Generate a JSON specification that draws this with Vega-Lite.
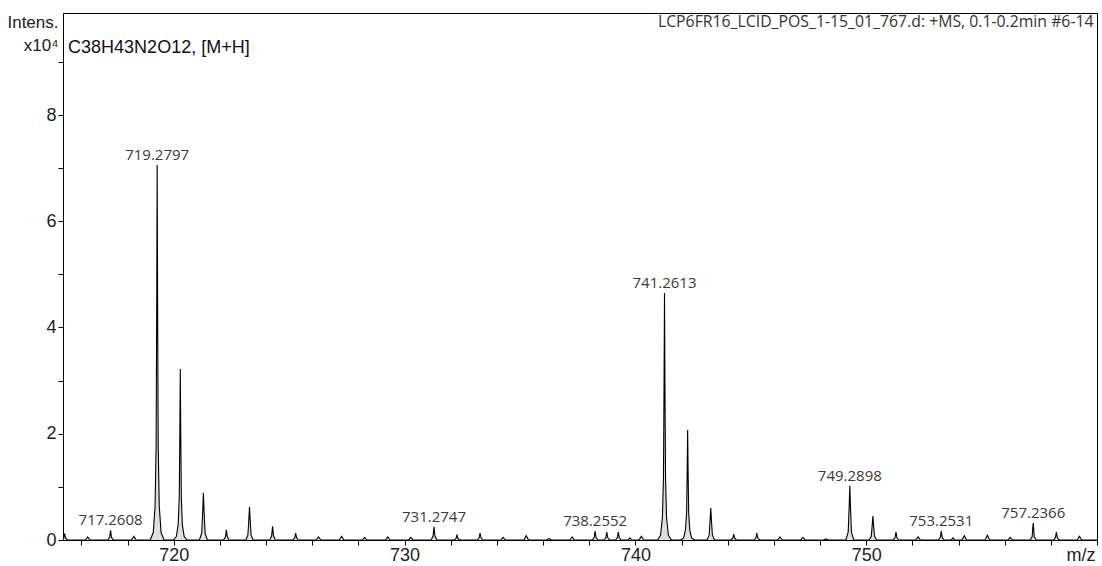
{
  "$schema": "https://vega.github.io/schema/vega-lite/v6.json",
  "width": 1034,
  "height": 527,
  "padding": {"left": 63, "top": 13, "right": 5, "bottom": 26},
  "autosize": {"type": "none"},
  "background": "white",
  "config": {
    "view": {"stroke": "#000", "strokeWidth": 1},
    "axis": {
      "domainColor": "#000",
      "tickColor": "#000",
      "tickSize": 5,
      "grid": false,
      "labelFont": "Liberation Sans",
      "labelFontSize": 18,
      "labelColor": "#222",
      "titleFont": "Liberation Sans",
      "titleFontWeight": "normal",
      "titleColor": "#222"
    }
  },
  "datasets": {
    "spectrum": [
      {"mz": 715.20, "i": 0}, {"mz": 715.23, "i": 0.04}, {"mz": 715.27, "i": 0.12}, {"mz": 715.31, "i": 0.04}, {"mz": 715.39, "i": 0},
      {"mz": 716.17, "i": 0}, {"mz": 716.27, "i": 0.06}, {"mz": 716.37, "i": 0},
      {"mz": 717.14, "i": 0}, {"mz": 717.22, "i": 0.05}, {"mz": 717.2608, "i": 0.18}, {"mz": 717.30, "i": 0.05}, {"mz": 717.38, "i": 0},
      {"mz": 718.17, "i": 0}, {"mz": 718.27, "i": 0.07}, {"mz": 718.37, "i": 0},
      {"mz": 718.98, "i": 0}, {"mz": 719.11, "i": 0.14}, {"mz": 719.19, "i": 0.64}, {"mz": 719.235, "i": 1.77}, {"mz": 719.26, "i": 4.38}, {"mz": 719.2797, "i": 7.06}, {"mz": 719.30, "i": 4.38}, {"mz": 719.325, "i": 1.77}, {"mz": 719.37, "i": 0.64}, {"mz": 719.45, "i": 0.14}, {"mz": 719.58, "i": 0},
      {"mz": 719.98, "i": 0}, {"mz": 720.11, "i": 0.065}, {"mz": 720.19, "i": 0.29}, {"mz": 720.237, "i": 0.8}, {"mz": 720.262, "i": 2.0}, {"mz": 720.282, "i": 3.22}, {"mz": 720.302, "i": 2.0}, {"mz": 720.327, "i": 0.8}, {"mz": 720.37, "i": 0.29}, {"mz": 720.45, "i": 0.065}, {"mz": 720.58, "i": 0},
      {"mz": 721.11, "i": 0}, {"mz": 721.21, "i": 0.13}, {"mz": 721.253, "i": 0.53}, {"mz": 721.283, "i": 0.89}, {"mz": 721.313, "i": 0.53}, {"mz": 721.356, "i": 0.13}, {"mz": 721.456, "i": 0},
      {"mz": 722.16, "i": 0}, {"mz": 722.24, "i": 0.06}, {"mz": 722.28, "i": 0.19}, {"mz": 722.32, "i": 0.06}, {"mz": 722.40, "i": 0},
      {"mz": 723.12, "i": 0}, {"mz": 723.21, "i": 0.09}, {"mz": 723.25, "i": 0.37}, {"mz": 723.28, "i": 0.62}, {"mz": 723.31, "i": 0.37}, {"mz": 723.35, "i": 0.09}, {"mz": 723.44, "i": 0},
      {"mz": 724.16, "i": 0}, {"mz": 724.24, "i": 0.08}, {"mz": 724.28, "i": 0.26}, {"mz": 724.32, "i": 0.08}, {"mz": 724.40, "i": 0},
      {"mz": 725.16, "i": 0}, {"mz": 725.24, "i": 0.04}, {"mz": 725.28, "i": 0.13}, {"mz": 725.32, "i": 0.04}, {"mz": 725.40, "i": 0},
      {"mz": 726.17, "i": 0}, {"mz": 726.27, "i": 0.06}, {"mz": 726.37, "i": 0},
      {"mz": 727.17, "i": 0}, {"mz": 727.27, "i": 0.07}, {"mz": 727.37, "i": 0},
      {"mz": 728.17, "i": 0}, {"mz": 728.27, "i": 0.05}, {"mz": 728.37, "i": 0},
      {"mz": 729.17, "i": 0}, {"mz": 729.27, "i": 0.06}, {"mz": 729.37, "i": 0},
      {"mz": 730.17, "i": 0}, {"mz": 730.27, "i": 0.05}, {"mz": 730.37, "i": 0},
      {"mz": 731.15, "i": 0}, {"mz": 731.235, "i": 0.075}, {"mz": 731.2747, "i": 0.25}, {"mz": 731.315, "i": 0.075}, {"mz": 731.40, "i": 0},
      {"mz": 732.15, "i": 0}, {"mz": 732.23, "i": 0.03}, {"mz": 732.27, "i": 0.10}, {"mz": 732.31, "i": 0.03}, {"mz": 732.39, "i": 0},
      {"mz": 733.15, "i": 0}, {"mz": 733.23, "i": 0.04}, {"mz": 733.27, "i": 0.13}, {"mz": 733.31, "i": 0.04}, {"mz": 733.39, "i": 0},
      {"mz": 734.17, "i": 0}, {"mz": 734.27, "i": 0.05}, {"mz": 734.37, "i": 0},
      {"mz": 735.17, "i": 0}, {"mz": 735.27, "i": 0.08}, {"mz": 735.37, "i": 0},
      {"mz": 736.16, "i": 0}, {"mz": 736.26, "i": 0.03}, {"mz": 736.36, "i": 0},
      {"mz": 737.16, "i": 0}, {"mz": 737.26, "i": 0.06}, {"mz": 737.36, "i": 0},
      {"mz": 738.14, "i": 0}, {"mz": 738.215, "i": 0.05}, {"mz": 738.2552, "i": 0.17}, {"mz": 738.295, "i": 0.05}, {"mz": 738.37, "i": 0},
      {"mz": 738.64, "i": 0}, {"mz": 738.72, "i": 0.045}, {"mz": 738.76, "i": 0.15}, {"mz": 738.80, "i": 0.045}, {"mz": 738.88, "i": 0},
      {"mz": 739.14, "i": 0}, {"mz": 739.22, "i": 0.045}, {"mz": 739.26, "i": 0.15}, {"mz": 739.30, "i": 0.045}, {"mz": 739.38, "i": 0},
      {"mz": 739.68, "i": 0}, {"mz": 739.76, "i": 0.04}, {"mz": 739.84, "i": 0},
      {"mz": 740.16, "i": 0}, {"mz": 740.26, "i": 0.07}, {"mz": 740.36, "i": 0},
      {"mz": 740.96, "i": 0}, {"mz": 741.09, "i": 0.09}, {"mz": 741.17, "i": 0.42}, {"mz": 741.216, "i": 1.16}, {"mz": 741.241, "i": 2.88}, {"mz": 741.2613, "i": 4.65}, {"mz": 741.281, "i": 2.88}, {"mz": 741.306, "i": 1.16}, {"mz": 741.35, "i": 0.42}, {"mz": 741.43, "i": 0.09}, {"mz": 741.56, "i": 0},
      {"mz": 741.96, "i": 0}, {"mz": 742.09, "i": 0.04}, {"mz": 742.17, "i": 0.19}, {"mz": 742.219, "i": 0.52}, {"mz": 742.244, "i": 1.28}, {"mz": 742.264, "i": 2.07}, {"mz": 742.284, "i": 1.28}, {"mz": 742.309, "i": 0.52}, {"mz": 742.354, "i": 0.19}, {"mz": 742.434, "i": 0.04}, {"mz": 742.56, "i": 0},
      {"mz": 743.1, "i": 0}, {"mz": 743.196, "i": 0.09}, {"mz": 743.236, "i": 0.36}, {"mz": 743.266, "i": 0.6}, {"mz": 743.296, "i": 0.36}, {"mz": 743.336, "i": 0.09}, {"mz": 743.43, "i": 0},
      {"mz": 744.14, "i": 0}, {"mz": 744.22, "i": 0.035}, {"mz": 744.26, "i": 0.11}, {"mz": 744.30, "i": 0.035}, {"mz": 744.38, "i": 0},
      {"mz": 745.14, "i": 0}, {"mz": 745.22, "i": 0.04}, {"mz": 745.26, "i": 0.13}, {"mz": 745.30, "i": 0.04}, {"mz": 745.38, "i": 0},
      {"mz": 746.16, "i": 0}, {"mz": 746.26, "i": 0.06}, {"mz": 746.36, "i": 0},
      {"mz": 747.16, "i": 0}, {"mz": 747.26, "i": 0.05}, {"mz": 747.36, "i": 0},
      {"mz": 748.16, "i": 0}, {"mz": 748.26, "i": 0.02}, {"mz": 748.36, "i": 0},
      {"mz": 749.12, "i": 0}, {"mz": 749.22, "i": 0.15}, {"mz": 749.26, "i": 0.61}, {"mz": 749.2898, "i": 1.02}, {"mz": 749.32, "i": 0.61}, {"mz": 749.36, "i": 0.15}, {"mz": 749.46, "i": 0},
      {"mz": 750.13, "i": 0}, {"mz": 750.22, "i": 0.07}, {"mz": 750.26, "i": 0.27}, {"mz": 750.29, "i": 0.45}, {"mz": 750.32, "i": 0.27}, {"mz": 750.36, "i": 0.07}, {"mz": 750.45, "i": 0},
      {"mz": 751.17, "i": 0}, {"mz": 751.25, "i": 0.045}, {"mz": 751.29, "i": 0.15}, {"mz": 751.33, "i": 0.045}, {"mz": 751.41, "i": 0},
      {"mz": 752.15, "i": 0}, {"mz": 752.25, "i": 0.06}, {"mz": 752.35, "i": 0},
      {"mz": 753.13, "i": 0}, {"mz": 753.213, "i": 0.05}, {"mz": 753.2531, "i": 0.17}, {"mz": 753.293, "i": 0.05}, {"mz": 753.37, "i": 0},
      {"mz": 753.68, "i": 0}, {"mz": 753.76, "i": 0.04}, {"mz": 753.84, "i": 0},
      {"mz": 754.15, "i": 0}, {"mz": 754.25, "i": 0.08}, {"mz": 754.35, "i": 0},
      {"mz": 755.15, "i": 0}, {"mz": 755.25, "i": 0.09}, {"mz": 755.35, "i": 0},
      {"mz": 756.14, "i": 0}, {"mz": 756.24, "i": 0.05}, {"mz": 756.34, "i": 0},
      {"mz": 757.10, "i": 0}, {"mz": 757.19, "i": 0.06}, {"mz": 757.2116, "i": 0.19}, {"mz": 757.2366, "i": 0.32}, {"mz": 757.2616, "i": 0.19}, {"mz": 757.28, "i": 0.06}, {"mz": 757.37, "i": 0},
      {"mz": 758.12, "i": 0}, {"mz": 758.20, "i": 0.045}, {"mz": 758.24, "i": 0.15}, {"mz": 758.28, "i": 0.045}, {"mz": 758.36, "i": 0},
      {"mz": 759.14, "i": 0}, {"mz": 759.24, "i": 0.07}, {"mz": 759.34, "i": 0},
      {"mz": 760.0, "i": 0}
    ],
    "peaks": [
      {"mz": 717.2608, "i": 0.18},
      {"mz": 719.2797, "i": 7.06},
      {"mz": 731.2747, "i": 0.25},
      {"mz": 738.2552, "i": 0.17},
      {"mz": 741.2613, "i": 4.65},
      {"mz": 749.2898, "i": 1.02},
      {"mz": 753.2531, "i": 0.17},
      {"mz": 757.2366, "i": 0.32}
    ]
  },
  "layer": [
    {
      "data": {"name": "spectrum"},
      "mark": {
        "type": "area",
        "color": "#d2d2d2",
        "clip": true,
        "line": {"color": "#000", "strokeWidth": 1.1}
      },
      "encoding": {
        "x": {
          "field": "mz",
          "type": "quantitative",
          "scale": {"domain": [715.2, 760.0], "nice": false, "zero": false},
          "axis": {
            "title": "m/z",
            "titleFontSize": 18,
            "titleAnchor": "end",
            "titleAlign": "right",
            "titleBaseline": "alphabetic",
            "titleX": 1032,
            "titleY": 20,
            "values": [716, 717, 718, 719, 720, 721, 722, 723, 724, 725, 726, 727, 728, 729, 730, 731, 732, 733, 734, 735, 736, 737, 738, 739, 740, 741, 742, 743, 744, 745, 746, 747, 748, 749, 750, 751, 752, 753, 754, 755, 756, 757, 758, 759, 760],
            "labelExpr": "datum.value % 5 === 0 && datum.value < 760 ? datum.label : ''",
            "labelPadding": 1,
            "labelFlush": false,
            "labelOverlap": false
          }
        },
        "y": {
          "field": "i",
          "type": "quantitative",
          "scale": {"domain": [0, 9.92], "nice": false},
          "axis": {
            "title": ["Intens.", "x10⁴"],
            "titleFontSize": 17,
            "titleAngle": 0,
            "titleAlign": "right",
            "titleBaseline": "alphabetic",
            "titleX": -5,
            "titleY": 14,
            "titleLineHeight": 23,
            "values": [0, 1, 2, 3, 4, 5, 6, 7, 8, 9],
            "labelExpr": "datum.value % 2 === 0 ? datum.label : ''",
            "labelPadding": 2,
            "labelOverlap": false
          }
        }
      }
    },
    {
      "data": {"name": "peaks"},
      "mark": {
        "type": "text",
        "font": "Open Sans",
        "fontSize": 15,
        "color": "#3a3a3a",
        "baseline": "middle",
        "align": "center",
        "dy": -10
      },
      "encoding": {
        "x": {"field": "mz", "type": "quantitative"},
        "y": {"field": "i", "type": "quantitative"},
        "text": {"field": "mz", "type": "quantitative", "format": ".4f"}
      }
    },
    {
      "data": {"values": [{}]},
      "mark": {
        "type": "text",
        "font": "Liberation Sans",
        "fontSize": 18,
        "color": "#111",
        "align": "left",
        "baseline": "alphabetic",
        "text": "C38H43N2O12, [M+H]"
      },
      "encoding": {
        "x": {"datum": 715.42, "type": "quantitative"},
        "y": {"datum": 9.17, "type": "quantitative"}
      }
    },
    {
      "data": {"values": [{}]},
      "mark": {
        "type": "text",
        "font": "Open Sans",
        "fontSize": 15.8,
        "color": "#333",
        "align": "right",
        "baseline": "alphabetic",
        "text": "LCP6FR16_LCID_POS_1-15_01_767.d: +MS, 0.1-0.2min #6-14"
      },
      "encoding": {
        "x": {"datum": 759.85, "type": "quantitative"},
        "y": {"datum": 9.66, "type": "quantitative"}
      }
    }
  ]
}
